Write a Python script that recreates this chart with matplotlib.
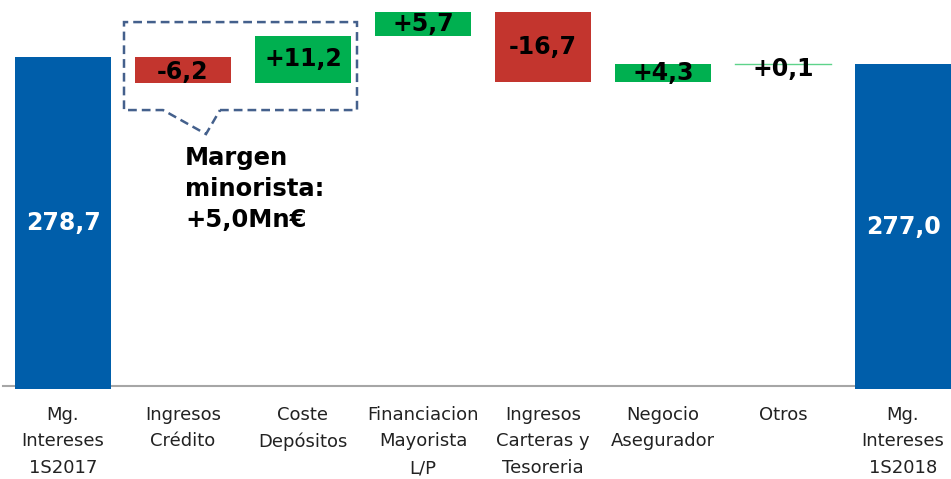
# GRAPH
import matplotlib.pyplot as plt
from matplotlib.patches import Polygon

# NUMPY
import numpy as np


# DATA
categories = ['Mg.\nIntereses\n1S2017', 'Ingresos\nCrédito', 'Coste\nDepósitos',
              'Financiacion\nMayorista\nL/P', 'Ingresos\nCarteras y\nTesoreria',
              'Negocio\nAsegurador', 'Otros', 'Mg.\nIntereses\n1S2018']
start_total = 278.7
changes = [-6.2, 11.2, 5.7, -16.7, 4.3, 0.1]
end_total = 277.0
value_labels = ['278,7', '-6,2', '+11,2', '+5,7', '-16,7', '+4,3', '+0,1', '277,0']
callout_text = 'Margen\nminorista:\n+5,0Mn€'

# COLORS
BLUE = '#005EAA'
RED = '#C3352E'
GREEN = '#00B050'

# AXIS BASE (broken axis starts at 200)
base = 200
top = 292.2


fig = plt.figure(figsize=(9.51, 4.79), dpi=100)
ax = fig.add_axes([0, 90 / 479, 1, 389 / 479])

x = np.arange(len(categories))
width = 0.8

# TOTAL BARS
ax.bar(x[0], start_total - base, bottom=base, width=width, color=BLUE)
ax.bar(x[-1], end_total - base, bottom=base, width=width, color=BLUE)

# FLOATING BARS
level = start_total
mids = [(start_total + base) / 2]
for i, ch in enumerate(changes):
    pos = x[i + 1]
    color = GREEN if ch > 0 else RED
    low = min(level, level + ch)
    if abs(ch) < 0.5:
        ax.plot([pos - width / 2, pos + width / 2], [level + ch, level + ch],
                color='#5ED38A', linewidth=1)
    else:
        ax.bar(pos, abs(ch), bottom=low, width=width, color=color)
    mids.append(low + abs(ch) / 2)
    level += ch
mids.append((end_total + base) / 2)

# VALUE LABELS
for i, lab in enumerate(value_labels):
    col = 'white' if i in (0, len(categories) - 1) else 'black'
    y = mids[i]
    if i == 6:
        y = y - 1.2
    if i == 1:
        y = y - 0.4
    ax.text(x[i], y, lab, ha='center', va='center', fontsize=17,
            fontweight='bold', color=col)

# BASELINE
ax.axhline(base + 0.7, xmin=0.003, color='#A6A6A6', linewidth=1.5, zorder=0)

# CALLOUT BOX
px = lambda v: (v - 63) / 120
py = lambda v: base + (389 - v) / 4.22
pts = [(px(220), py(110)), (px(357), py(110)), (px(357), py(22)), (px(124), py(22)),
       (px(124), py(110)), (px(163), py(110)), (px(206), py(134)), (px(220), py(110))]
box = Polygon(pts, closed=True, fill=False, edgecolor='#44608C', linewidth=1.8,
              linestyle=(0, (3.5, 2)))
ax.add_patch(box)
ax.text(px(185), py(146), callout_text, ha='left', va='top', fontsize=17.5,
        fontweight='bold', color='black', linespacing=1.38)

ax.set_xlim(-0.525, 7.4)
ax.set_ylim(base, top)
ax.set_xticks(x)
ax.set_xticklabels(categories, fontsize=13, color='#222222', linespacing=1.62)
ax.tick_params(axis='x', length=0, pad=12)
ax.set_yticks([])
for s in ax.spines.values():
    s.set_visible(False)

fig.savefig('out.png', dpi=100)
